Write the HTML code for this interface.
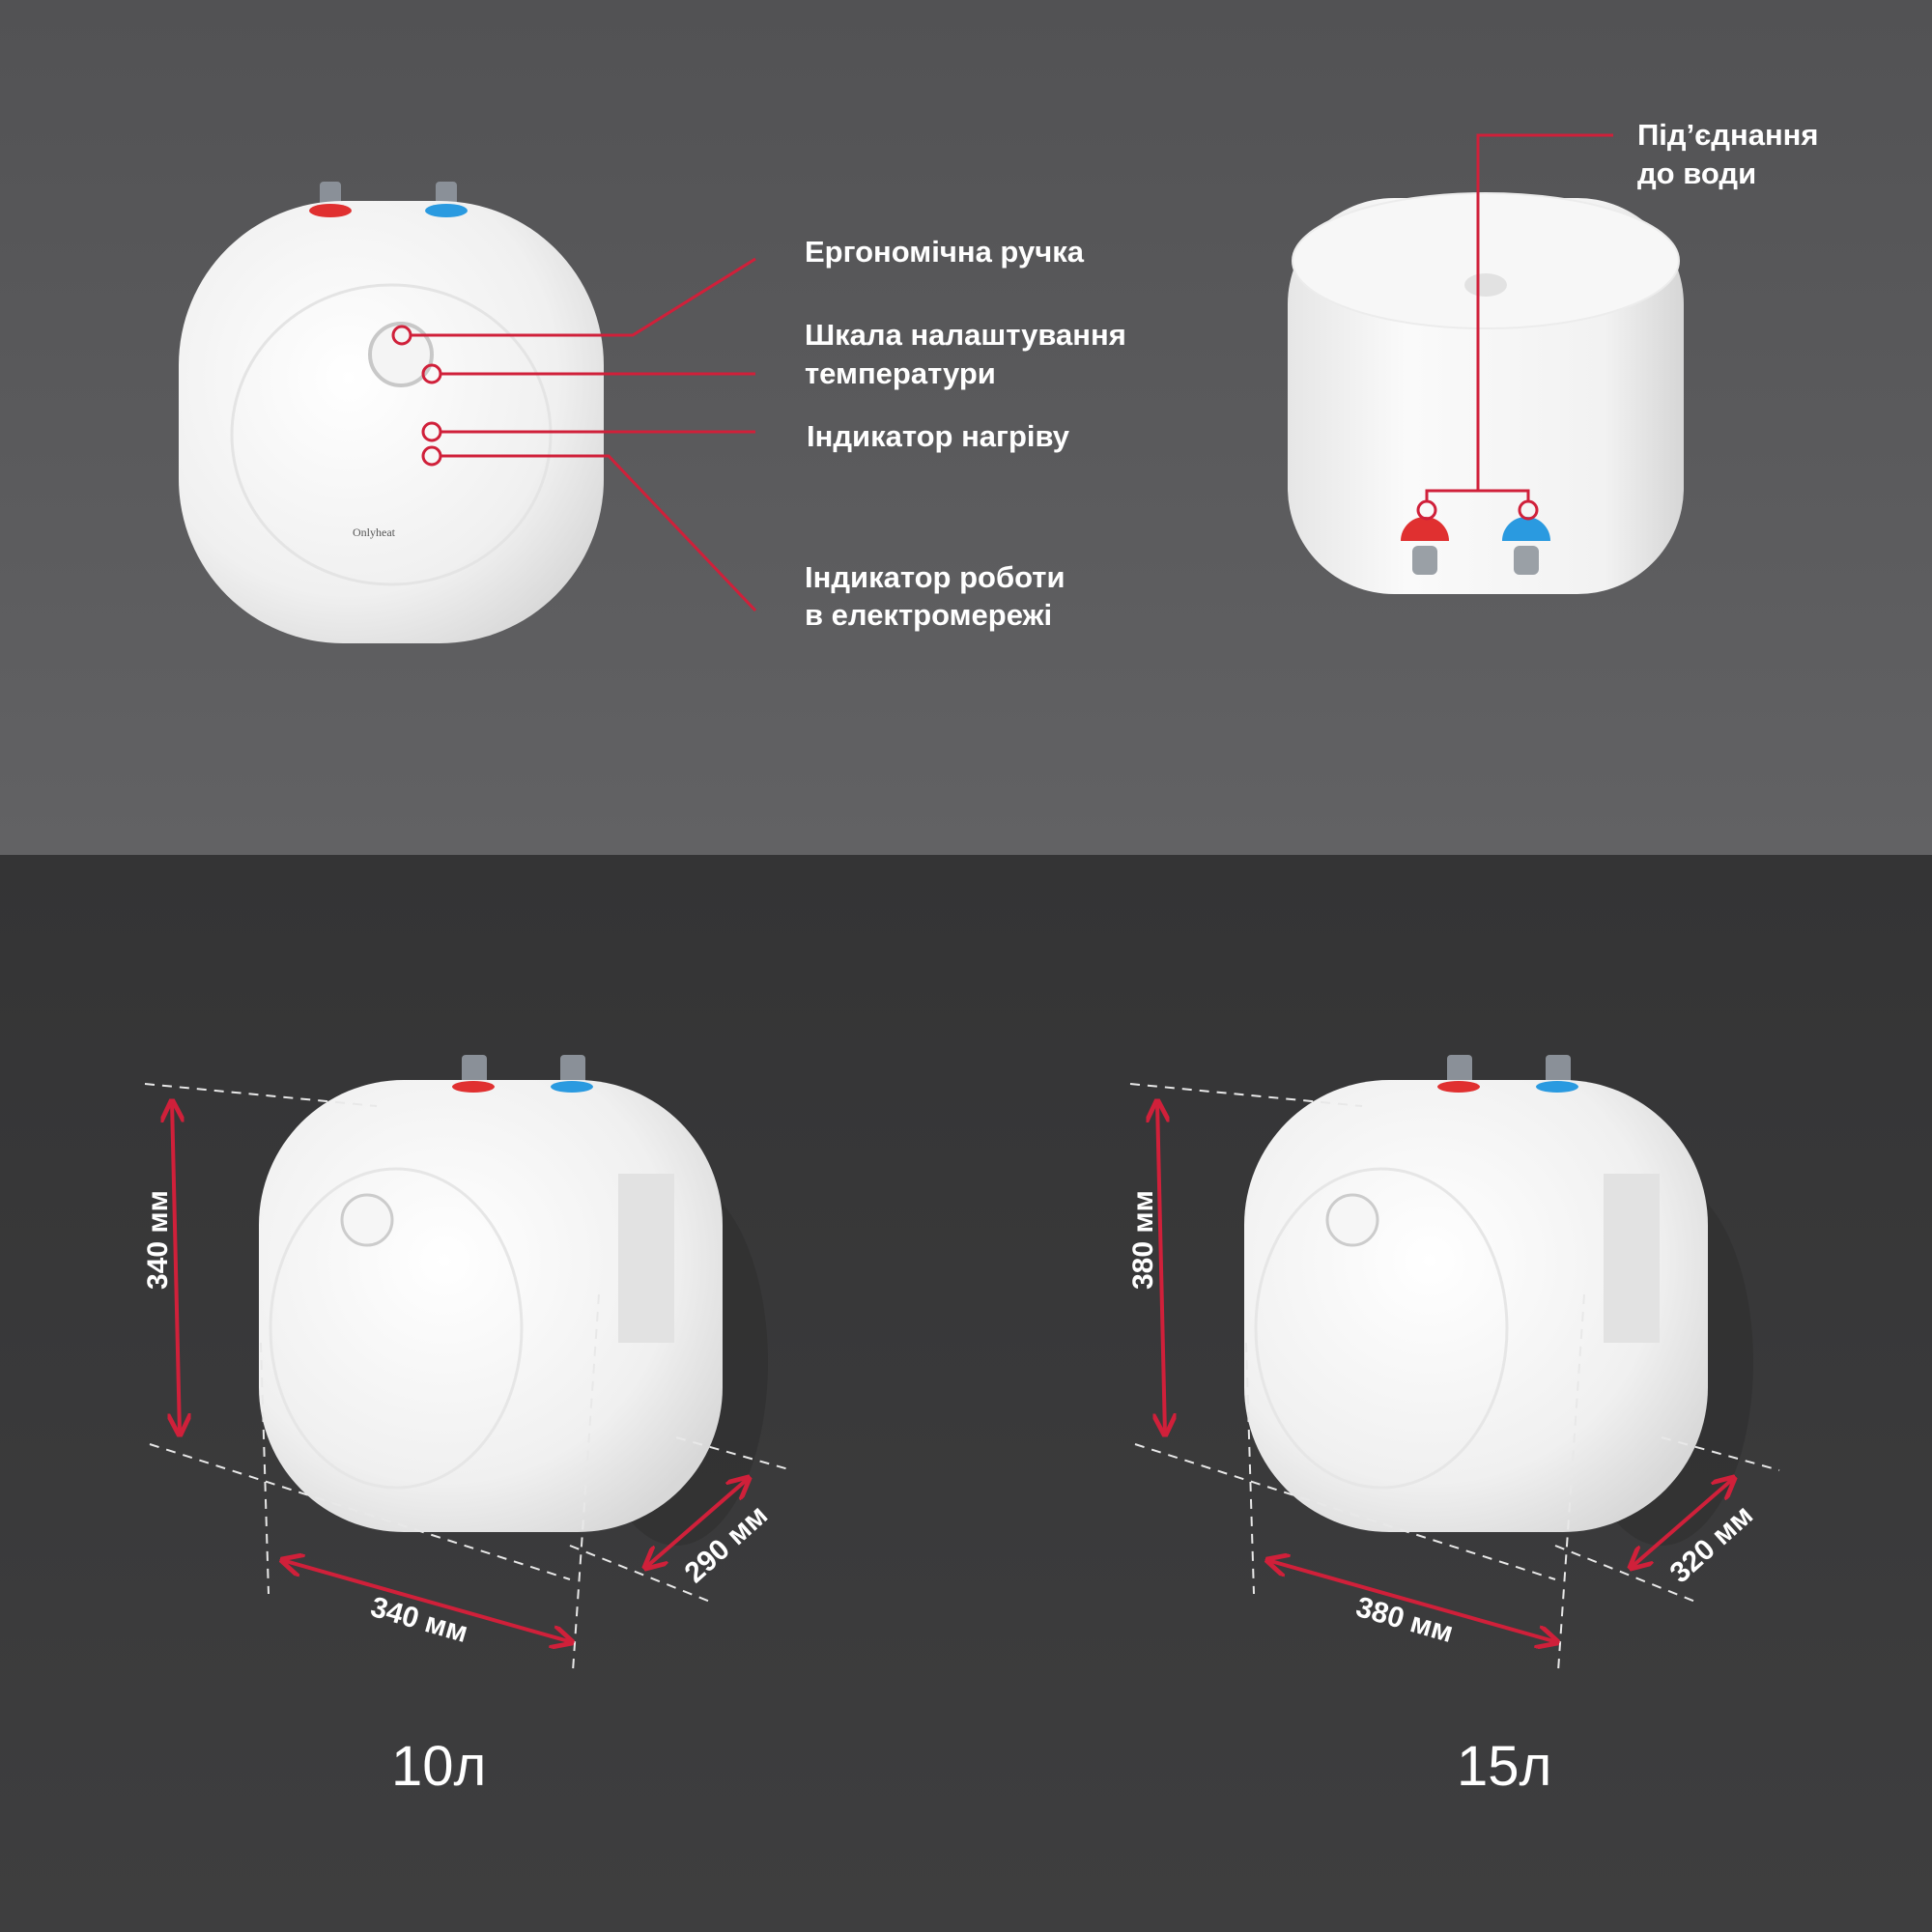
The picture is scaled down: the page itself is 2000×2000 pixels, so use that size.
<!DOCTYPE html>
<html><head><meta charset="utf-8"><style>
html,body{margin:0;padding:0;width:2000px;height:2000px;overflow:hidden;background:#3b3b3c}
svg{display:block}
.l{font-family:"Liberation Sans",sans-serif;font-weight:bold;font-size:31px;fill:#fff}
.d{font-family:"Liberation Sans",sans-serif;font-weight:bold;font-size:30px;fill:#fff}
.v{font-family:"Liberation Sans",sans-serif;font-size:58px;fill:#fff}
</style></head><body>
<svg width="2000" height="2000" viewBox="0 0 2000 2000">
<defs>
<linearGradient id="tb" x1="0" y1="0" x2="0" y2="1"><stop offset="0" stop-color="#525254"/><stop offset="1" stop-color="#626264"/></linearGradient>
<linearGradient id="bb" x1="0" y1="0" x2="0" y2="1"><stop offset="0" stop-color="#343435"/><stop offset="1" stop-color="#3e3e3f"/></linearGradient>
<radialGradient id="wh" cx="0.4" cy="0.4" r="0.7"><stop offset="0" stop-color="#ffffff"/><stop offset="0.7" stop-color="#f0f0f0"/><stop offset="1" stop-color="#d8d8d8"/></radialGradient>
<linearGradient id="cyl" x1="0" y1="0" x2="1" y2="0"><stop offset="0" stop-color="#e6e6e6"/><stop offset="0.3" stop-color="#fafafa"/><stop offset="0.8" stop-color="#f2f2f2"/><stop offset="1" stop-color="#d6d6d6"/></linearGradient>
<marker id="ar" viewBox="0 0 10 10" refX="9" refY="5" markerWidth="6" markerHeight="6" orient="auto-start-reverse"><path d="M0,0 L10,5 L0,10" fill="none" stroke="#d0203a" stroke-width="2"/></marker>
</defs>
<rect x="0" y="0" width="2000" height="885" fill="url(#tb)"/>
<rect x="0" y="885" width="2000" height="1115" fill="url(#bb)"/>

<!-- top-left heater -->
<rect x="331" y="188" width="22" height="28" rx="4" fill="#8a9098"/>
<rect x="451" y="188" width="22" height="28" rx="4" fill="#8a9098"/>
<rect x="185" y="208" width="440" height="458" rx="170" fill="url(#wh)"/>
<ellipse cx="342" cy="218" rx="22" ry="7" fill="#e03030"/>
<ellipse cx="462" cy="218" rx="22" ry="7" fill="#2a9ae0"/>
<ellipse cx="405" cy="450" rx="165" ry="155" fill="none" stroke="#e4e4e4" stroke-width="3"/>
<circle cx="415" cy="367" r="32" fill="#f4f4f4" stroke="#c8c8c8" stroke-width="4"/>
<text x="365" y="555" font-family="Liberation Serif" font-size="12" fill="#555">Onlyheat</text>

<!-- top-right heater -->
<rect x="1333" y="205" width="410" height="410" rx="110" fill="url(#cyl)"/>
<ellipse cx="1538" cy="270" rx="200" ry="70" fill="#f7f7f7" stroke="#ececec" stroke-width="2"/>
<ellipse cx="1538" cy="295" rx="22" ry="12" fill="#e2e2e2"/>
<path d="M1450,560 a25,25 0 0 1 50,0 z" fill="#e03030"/>
<rect x="1462" y="565" width="26" height="30" rx="6" fill="#9aa0a6"/>
<path d="M1555,560 a25,25 0 0 1 50,0 z" fill="#2a9ae0"/>
<rect x="1567" y="565" width="26" height="30" rx="6" fill="#9aa0a6"/>

<!-- red callouts -->
<g fill="none" stroke="#d0203a" stroke-width="3">
<circle cx="416" cy="347" r="9"/><circle cx="447" cy="387" r="9"/><circle cx="447" cy="447" r="9"/><circle cx="447" cy="472" r="9"/>
<polyline points="425,347 655,347 782,268"/>
<line x1="456" y1="387" x2="782" y2="387"/>
<line x1="456" y1="447" x2="782" y2="447"/>
<polyline points="456,472 630,472 782,632"/>
<circle cx="1477" cy="528" r="9"/><circle cx="1582" cy="528" r="9"/>
<polyline points="1670,140 1530,140 1530,508"/>
<polyline points="1477,519 1477,508 1582,508 1582,519"/>
</g>
<text class="l" x="833" y="271">Ергономічна ручка</text>
<text class="l" x="833" y="357">Шкала налаштування</text>
<text class="l" x="833" y="397">температури</text>
<text class="l" x="835" y="462">Індикатор нагріву</text>
<text class="l" x="833" y="608">Індикатор роботи</text>
<text class="l" x="833" y="647">в електромережі</text>
<text class="l" x="1695" y="150">Під’єднання</text>
<text class="l" x="1695" y="190">до води</text>

<!-- bottom heaters -->
<g id="h1">
<ellipse cx="700" cy="1410" rx="95" ry="190" fill="#2e2e2f" opacity="0.6"/>
<rect x="478" y="1092" width="26" height="32" rx="4" fill="#8a9098"/>
<rect x="580" y="1092" width="26" height="32" rx="4" fill="#8a9098"/>
<rect x="268" y="1118" width="480" height="468" rx="150" fill="url(#wh)"/>
<ellipse cx="490" cy="1125" rx="22" ry="6" fill="#e03030"/>
<ellipse cx="592" cy="1125" rx="22" ry="6" fill="#2a9ae0"/>
<ellipse cx="410" cy="1375" rx="130" ry="165" fill="none" stroke="#e6e6e6" stroke-width="3"/>
<circle cx="380" cy="1263" r="26" fill="#f6f6f6" stroke="#ccc" stroke-width="3"/>
<rect x="640" y="1215" width="58" height="175" fill="#e2e2e2"/>
</g>
<use href="#h1" x="1020" y="0"/>
<g fill="none" stroke="#e8e8e8" stroke-width="2" stroke-dasharray="10,8">
<line x1="150" y1="1122" x2="390" y2="1145"/>
<line x1="155" y1="1495" x2="590" y2="1635"/>
<line x1="270" y1="1390" x2="278" y2="1650"/>
<line x1="620" y1="1340" x2="593" y2="1730"/>
<line x1="700" y1="1488" x2="820" y2="1522"/>
<line x1="590" y1="1600" x2="740" y2="1660"/>
<line x1="1170" y1="1122" x2="1410" y2="1145"/>
<line x1="1175" y1="1495" x2="1610" y2="1635"/>
<line x1="1290" y1="1390" x2="1298" y2="1650"/>
<line x1="1640" y1="1340" x2="1613" y2="1730"/>
<line x1="1720" y1="1488" x2="1842" y2="1522"/>
<line x1="1610" y1="1600" x2="1760" y2="1660"/>
</g>
<g stroke="#d0203a" stroke-width="4" fill="none" marker-start="url(#ar)" marker-end="url(#ar)">
<line x1="178" y1="1140" x2="186" y2="1485"/>
<line x1="292" y1="1615" x2="592" y2="1700"/>
<line x1="668" y1="1623" x2="775" y2="1530"/>
<line x1="1198" y1="1140" x2="1206" y2="1485"/>
<line x1="1312" y1="1615" x2="1612" y2="1700"/>
<line x1="1688" y1="1623" x2="1795" y2="1530"/>
</g>
<text class="d" transform="translate(173,1335) rotate(-90)">340 мм</text>
<text class="d" transform="translate(1193,1335) rotate(-90)">380 мм</text>
<text class="d" transform="translate(382,1672) rotate(16)">340 мм</text>
<text class="d" transform="translate(1402,1672) rotate(16)">380 мм</text>
<text class="d" transform="translate(720,1640) rotate(-42)">290 мм</text>
<text class="d" transform="translate(1740,1640) rotate(-42)">320 мм</text>
<text class="v" x="405" y="1848">10л</text>
<text class="v" x="1508" y="1848">15л</text>
</svg>
</body></html>
